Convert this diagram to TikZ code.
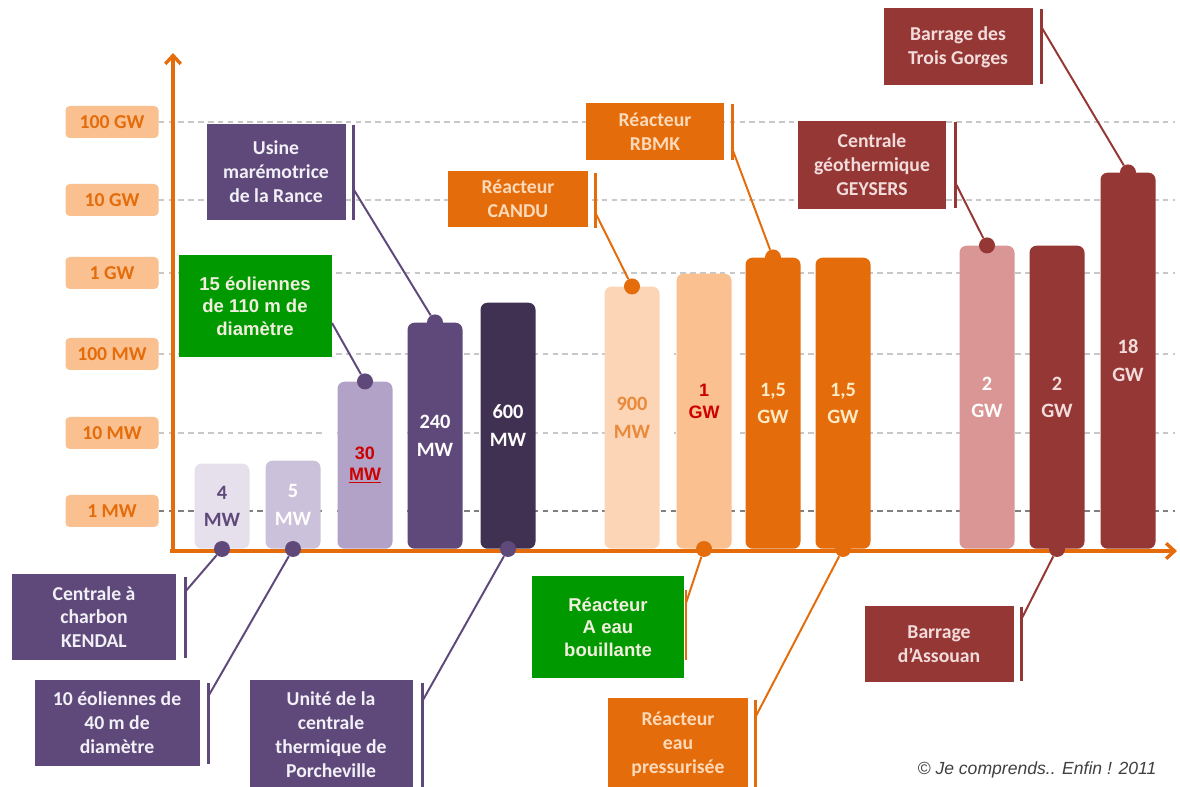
\documentclass[tikz,border=0pt]{standalone}
\usepackage{fontspec}
\setmainfont{Carlito}
\newfontfamily\arialfont{Liberation Sans}
\usepackage{xcolor}
\usepackage{tikz}
\usetikzlibrary{arrows.meta}

\definecolor{axisorange}{HTML}{E46C0A}
\definecolor{labelfill}{HTML}{FAC090}
\definecolor{gridgray}{HTML}{C8C8C8}
\definecolor{purpledark}{HTML}{5F497A}
\definecolor{lilacpale}{HTML}{E6E0EC}
\definecolor{lilacmid}{HTML}{CCC1DA}
\definecolor{lilacdeep}{HTML}{B3A2C7}
\definecolor{purplenight}{HTML}{403152}
\definecolor{peachpale}{HTML}{FBD5B5}
\definecolor{peachmid}{HTML}{FAC090}
\definecolor{rosebar}{HTML}{D99694}
\definecolor{brick}{HTML}{953735}
\definecolor{boxgreen}{HTML}{009900}
\definecolor{markred}{HTML}{CC0000}
\definecolor{purpletext}{HTML}{F2F0F7}
\definecolor{orangetext}{HTML}{FCD9B8}
\definecolor{bricktext}{HTML}{F2DCDB}
\definecolor{greentext}{HTML}{F0EEDC}
\definecolor{creamtext}{HTML}{FDEBC8}
\definecolor{copygray}{HTML}{404040}

\newcommand{\pxu}{0.025cm}

\begin{document}
\begin{tikzpicture}[x=0.025cm, y=-0.025cm,
    axislabel/.style={fill=labelfill, rounded corners=3pt, minimum width=93*\pxu,
        minimum height=32*\pxu, inner sep=0pt, text=axisorange,
        font=\bfseries\fontsize{14}{16}\selectfont},
    gridline/.style={gridgray, dash pattern=on 4pt off 3pt, line width=0.8pt},
    axisline/.style={axisorange, line width=2.4pt, -{Straight Barb[length=6pt,width=11pt]}},
    bar/.style={rounded corners=5pt, anchor=south, minimum width=55*\pxu, inner sep=0pt,
        align=center, font=\bfseries\fontsize{14.5}{19.5}\selectfont},
    callout/.style={inner sep=0pt, align=center, font=\bfseries\fontsize{14}{17}\selectfont},
    greenbox/.style={callout, fill=boxgreen, text=greentext,
        font=\arialfont\bfseries\fontsize{13.2}{16}\selectfont},
    bracket/.style={line width=2pt},
    pinline/.style={line width=1.4pt},
    dot/.style={circle, inner sep=0pt, minimum size=16*\pxu}]

\useasboundingbox[fill=white] (0,0) rectangle (1180,787);

% power scale
\foreach \val/\ypos/\nm in {100 GW/122/s100GW, 10 GW/200/s10GW, 1 GW/273/s1GW,
    100 MW/354/s100MW, 10 MW/433/s10MW} {
  \node[axislabel] (\nm) at (112,\ypos) {\val};
  \draw[gridline] (\nm.east) -- (1175,\ypos);
}
\node[axislabel] (s1MW) at (112,511) {1 MW};
\draw[gridline, gray] (s1MW.east) -- (1175,511);

\fill[white] (322,420) rectangle (337,533);
\fill[white] (393,425) rectangle (407,535);
\fill[white] (660,337) rectangle (674,447);
\fill[white] (731,342) rectangle (740,452);

% bars
\node[bar, fill=lilacpale, text=purpledark, minimum height=85*\pxu] (kendalbar) at (222,549) {4\\MW};
\node[bar, fill=lilacmid, text=white, minimum height=88*\pxu] (eol10bar) at (293,549) {5\\MW};
\node[bar, fill=lilacdeep, text=markred, minimum height=167*\pxu,
      font=\arialfont\bfseries\fontsize{12.8}{15}\selectfont] (eol15bar) at (365,549) {30\\\underline{MW}};
\node[bar, fill=purpledark, text=white, minimum height=226*\pxu] (rancebar) at (435,549) {240\\MW};
\node[bar, fill=purplenight, text=white, minimum height=246*\pxu] (porchbar) at (508,549) {600\\MW};
\node[bar, fill=peachpale, text=axisorange!80, minimum height=262*\pxu] (candubar) at (632,549) {900\\MW};
\node[bar, fill=peachmid, text=markred, minimum height=275*\pxu,
      font=\arialfont\bfseries\fontsize{12.8}{16}\selectfont] (bouilbar) at (704,549) {1\\GW\\[-2pt]};
\node[bar, fill=axisorange, text=creamtext, minimum height=291*\pxu] (rbmkbar) at (773,549) {1,5\\GW};
\node[bar, fill=axisorange, text=creamtext, minimum height=291*\pxu] (pressubar) at (843,549) {1,5\\GW};
\node[bar, fill=rosebar, text=white, minimum height=303*\pxu] (geysbar) at (987,549) {2\\GW};
\node[bar, fill=brick, text=bricktext, minimum height=303*\pxu] (assoubar) at (1057,549) {2\\GW};
\node[bar, fill=brick, text=bricktext, minimum height=376*\pxu] (gorgbar) at (1128,549) {18\\GW};

% axes
\coordinate (origin) at (173,552);
\draw[axisline] (origin) -- (173,53);
\draw[axisline] (170,551) -- (1177,551);

% dots on the bars
\node[dot, fill=purpledark] (kendaldot) at (kendalbar.south) {};
\node[dot, fill=purpledark] (eol10dot) at (eol10bar.south) {};
\node[dot, fill=purpledark] (eol15dot) at (eol15bar.north) {};
\node[dot, fill=purpledark] (rancedot) at (rancebar.north) {};
\node[dot, fill=purpledark] (porchdot) at (porchbar.south) {};
\node[dot, fill=axisorange] (candudot) at (candubar.north) {};
\node[dot, fill=axisorange] (bouildot) at (bouilbar.south) {};
\node[dot, fill=axisorange] (rbmkdot) at (rbmkbar.north) {};
\node[dot, fill=axisorange] (pressudot) at (pressubar.south) {};
\node[dot, fill=brick] (geysdot) at (geysbar.north) {};
\node[dot, fill=brick] (assoudot) at (assoubar.south) {};
\node[dot, fill=brick] (gorgdot) at (gorgbar.north) {};

% callouts
\node[callout, fill=purpledark, text=purpletext, minimum width=164*\pxu, minimum height=86*\pxu]
  (kendal) at (94,617) {Centrale à\\charbon\\KENDAL};
\node[callout, fill=purpledark, text=purpletext, minimum width=165*\pxu, minimum height=86*\pxu]
  (eol10) at (117,723) {10 éoliennes de\\40 m de\\diamètre};
\node[callout, fill=purpledark, text=purpletext, minimum width=163*\pxu, minimum height=110*\pxu]
  (porch) at (331,735) {Unité de la\\centrale\\thermique de\\Porcheville};
\node[callout, fill=purpledark, text=purpletext, minimum width=139*\pxu, minimum height=96*\pxu]
  (rance) at (276,172) {Usine\\marémotrice\\de la Rance};
\node[greenbox, minimum width=153*\pxu, minimum height=102*\pxu]
  (eol15) at (255,306) {15 éoliennes\\de 110 m de\\diamètre};
\node[callout, fill=axisorange, text=orangetext, minimum width=140*\pxu, minimum height=56*\pxu]
  (candu) at (518,199) {Réacteur\\CANDU};
\node[callout, fill=axisorange, text=orangetext, minimum width=138*\pxu, minimum height=57*\pxu]
  (rbmk) at (655,132) {Réacteur\\RBMK};
\node[callout, fill=axisorange, text=orangetext, minimum width=140*\pxu, minimum height=92*\pxu]
  (pressu) at (678,744) {Réacteur\\eau\\pressurisée};
\node[callout, fill=brick, text=bricktext, minimum width=148*\pxu, minimum height=88*\pxu]
  (geys) at (872,165) {Centrale\\géothermique\\GEYSERS};
\node[callout, fill=brick, text=bricktext, minimum width=149*\pxu, minimum height=77*\pxu]
  (gorg) at (958,47) {Barrage des\\Trois Gorges};
\node[callout, fill=brick, text=bricktext, minimum width=149*\pxu, minimum height=76*\pxu]
  (assou) at (939,644) {Barrage\\d’Assouan};

% brackets
\draw[bracket, purpledark] ([xshift=9*\pxu, yshift=-3*\pxu]kendal.north east) -- ([xshift=9*\pxu, yshift=2*\pxu]kendal.south east);
\draw[bracket, purpledark] ([xshift=9*\pxu, yshift=-3*\pxu]eol10.north east) -- ([xshift=9*\pxu, yshift=2*\pxu]eol10.south east);
\draw[bracket, purpledark] ([xshift=10*\pxu, yshift=-3*\pxu]porch.north east) -- ([xshift=10*\pxu]porch.south east);
\draw[bracket, purpledark] ([xshift=8*\pxu, yshift=-1*\pxu]rance.north east) -- ([xshift=8*\pxu]rance.south east);
\draw[bracket, axisorange] ([xshift=7*\pxu, yshift=-2*\pxu]candu.north east) -- ([xshift=7*\pxu, yshift=-1*\pxu]candu.south east);
\draw[bracket, axisorange] ([xshift=8*\pxu, yshift=-1*\pxu]rbmk.north east) -- ([xshift=8*\pxu, yshift=1*\pxu]rbmk.south east);
\draw[bracket, axisorange] ([xshift=7*\pxu, yshift=-2*\pxu]pressu.north east) -- ([xshift=7*\pxu]pressu.south east);
\draw[bracket, brick] ([xshift=9*\pxu, yshift=-1*\pxu]geys.north east) -- ([xshift=9*\pxu, yshift=1*\pxu]geys.south east);
\draw[bracket, brick] ([xshift=9*\pxu, yshift=-1*\pxu]gorg.north east) -- ([xshift=9*\pxu, yshift=2*\pxu]gorg.south east);
\draw[bracket, brick] ([xshift=8*\pxu, yshift=-1*\pxu]assou.north east) -- ([xshift=8*\pxu, yshift=1*\pxu]assou.south east);
\draw[bracket, axisorange] (686,590) -- (686,660);

% pins
\coordinate (kendalpin) at (185,592);
\coordinate (eol10pin) at (209,695);
\coordinate (porchpin) at (423,700);
\coordinate (rancepin) at (354,190);
\coordinate (eol15pin) at (332,323);
\coordinate (candupin) at (595,212);
\coordinate (rbmkpin) at (732,148);
\coordinate (bouilpin) at (686,603);
\coordinate (pressupin) at (756,716);
\coordinate (geyspin) at (955,182);
\coordinate (gorgpin) at (1042,28);
\coordinate (assoupin) at (1022,618);

\draw[pinline, purpledark] (kendalpin) -- (kendaldot);
\draw[pinline, purpledark] (eol10pin) -- (eol10dot);
\draw[pinline, purpledark] (porchpin) -- (porchdot);
\draw[pinline, purpledark] (rancepin) -- (rancedot);
\draw[pinline, purpledark] (eol15pin) -- (eol15dot);
\draw[pinline, axisorange] (candupin) -- (candudot);
\draw[pinline, axisorange] (rbmkpin) -- (rbmkdot);
\draw[pinline, axisorange] (bouilpin) -- (bouildot);
\draw[pinline, axisorange] (pressupin) -- (pressudot);
\draw[pinline, brick] (geyspin) -- (geysdot);
\draw[pinline, brick] (gorgpin) -- (gorgdot);
\draw[pinline, brick] (assoupin) -- (assoudot);

\node[greenbox, minimum width=152*\pxu, minimum height=102*\pxu]
  (bouil) at (608,627) {Réacteur\\A eau\\bouillante};

\node[text=copygray, font=\arialfont\itshape\fontsize{12.5}{14}\selectfont]
  (copy) at (1037,770) {© Je comprends.. Enfin ! 2011};

\end{tikzpicture}
\end{document}
